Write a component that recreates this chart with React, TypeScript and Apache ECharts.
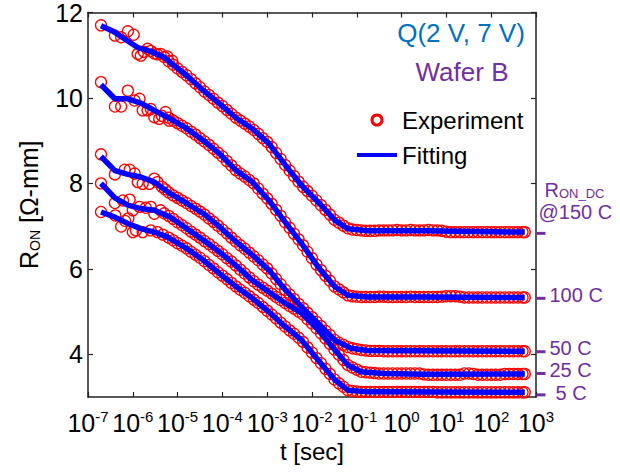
import React, { useEffect, useRef } from "react";
import * as echarts from "echarts";

const FONT = '"Liberation Sans", Arial, Helvetica, sans-serif';
const RED = "#ff0000";
const BLUE = "#0000ff";
const PURPLE = "#7030A0";
const TITLE_BLUE = "#0070C0";
const AXIS = "#222222";

// x values are log10(t / sec)
const xTickExponents = [-7, -6, -5, -4, -3, -2, -1, 0, 1, 2, 3];
const yTickValues = [4, 6, 8, 10, 12];

// ---------- fitting curves (log10 t, R_ON) ----------
const fitT150 = [-6.71, -6.44, -6.18, -5.89, -5.6, -5.3, -5.08, -4.79, -4.42, -4.06, -3.69, -3.33, -2.96, -2.59, -2.23, -1.86, -1.49, -1.2, -0.76, -0.4, 0.5, 2.75];
const fitR150 = [11.69, 11.56, 11.38, 11.18, 11.09, 10.95, 10.76, 10.52, 10.17, 9.86, 9.53, 9.28, 8.93, 8.42, 7.95, 7.56, 7.14, 6.94, 6.89, 6.89, 6.89, 6.86];

const fitT100 = [-6.71, -6.4, -6.11, -5.82, -5.52, -5.16, -4.79, -4.42, -4.06, -3.69, -3.33, -2.96, -2.59, -2.23, -1.86, -1.49, -1.2, -0.76, 0.5, 2.75];
const fitR100 = [10.31, 9.98, 9.98, 9.88, 9.71, 9.51, 9.28, 9.0, 8.69, 8.3, 8.03, 7.6, 7.08, 6.59, 6.04, 5.58, 5.38, 5.34, 5.34, 5.33];

const fitT50 = [-6.71, -6.4, -6.11, -5.82, -5.52, -5.16, -4.79, -4.42, -4.06, -3.69, -3.33, -2.96, -2.59, -2.23, -1.86, -1.49, -1.13, -0.76, 2.75];
const fitR50 = [8.63, 8.3, 8.21, 8.15, 8.03, 7.76, 7.53, 7.29, 6.98, 6.63, 6.32, 5.97, 5.5, 5.11, 4.72, 4.33, 4.14, 4.09, 4.07];

const fitT25 = [-6.71, -6.4, -6.11, -5.82, -5.52, -5.16, -4.79, -4.42, -4.06, -3.69, -3.33, -2.96, -2.59, -2.23, -1.86, -1.49, -1.2, -0.91, -0.4, 0.5, 2.75];
const fitR25 = [8.0, 7.66, 7.49, 7.41, 7.37, 7.21, 6.94, 6.67, 6.39, 6.07, 5.73, 5.46, 5.19, 4.96, 4.57, 4.1, 3.75, 3.59, 3.55, 3.53, 3.54];

const fitT5 = [-6.71, -6.4, -6.11, -5.82, -5.52, -5.23, -4.79, -4.42, -4.06, -3.69, -3.33, -2.96, -2.59, -2.23, -1.86, -1.49, -1.2, -0.76, 2.75];
const fitR5 = [7.33, 7.21, 7.06, 6.94, 6.86, 6.75, 6.47, 6.2, 5.89, 5.58, 5.31, 4.99, 4.64, 4.33, 3.86, 3.4, 3.16, 3.12, 3.11];

// ---------- experiment: early, scattered points ----------
const earlyT150 = [-6.71, -6.4, -6.26, -6.11, -5.98, -5.89, -5.82, -5.75, -5.67, -5.6, -5.52, -5.45, -5.38, -5.3, -5.23, -5.12];
const earlyR150 = [11.7, 11.46, 11.42, 11.56, 11.48, 11.03, 10.99, 11.08, 11.15, 11.1, 11.04, 11.02, 11.03, 10.96, 10.97, 10.87];

const earlyT100 = [-6.71, -6.4, -6.26, -6.11, -5.96, -5.85, -5.78, -5.67, -5.6, -5.52, -5.41, -5.35, -5.27, -5.19];
const earlyR100 = [10.37, 9.8, 9.8, 10.17, 9.94, 9.98, 9.71, 9.71, 9.74, 9.55, 9.51, 9.58, 9.67, 9.47];

const earlyT50 = [-6.71, -6.4, -6.18, -6.07, -5.96, -5.89, -5.78, -5.63, -5.52, -5.45, -5.35, -5.28];
const earlyR50 = [8.68, 8.21, 8.32, 8.32, 8.23, 8.03, 7.99, 7.99, 8.11, 8.03, 7.92, 7.86];

const earlyT25 = [-6.71, -6.4, -6.22, -6.07, -6.0, -5.85, -5.71, -5.6, -5.52, -5.38, -5.3];
const earlyR25 = [8.0, 7.54, 7.6, 7.62, 7.37, 7.45, 7.43, 7.45, 7.29, 7.37, 7.3];

const earlyT5 = [-6.71, -6.39, -6.26, -6.17, -6.1, -6.0, -5.93, -5.78, -5.6, -5.45, -5.33];
const earlyR5 = [7.33, 7.25, 6.99, 7.12, 7.18, 6.86, 6.9, 6.86, 6.9, 6.86, 6.8];

// ---------- experiment: dense part, sampled every 0.1 decade ----------
const expT = [
  -5.2, -5.1, -5.0, -4.9, -4.8, -4.7, -4.6, -4.5, -4.4, -4.3,
  -4.2, -4.1, -4.0, -3.9, -3.8, -3.7, -3.6, -3.5, -3.4, -3.3,
  -3.2, -3.1, -3.0, -2.9, -2.8, -2.7, -2.6, -2.5, -2.4, -2.3,
  -2.2, -2.1, -2.0, -1.9, -1.8, -1.7, -1.6, -1.5, -1.4, -1.3,
  -1.2, -1.1, -1.0, -0.9, -0.8, -0.7, -0.6, -0.5, -0.4, -0.3,
  -0.2, -0.1, 0.0, 0.1, 0.2, 0.3, 0.4, 0.5, 0.6, 0.7,
  0.8, 0.9, 1.0, 1.1, 1.2, 1.3, 1.4, 1.5, 1.6, 1.7,
  1.8, 1.9, 2.0, 2.1, 2.2, 2.3, 2.4, 2.5, 2.6, 2.7,
  2.75,
];
const expR150 = [
  10.86, 10.78, 10.69, 10.61, 10.53, 10.44, 10.34, 10.25, 10.15, 10.07,
  9.98, 9.89, 9.81, 9.72, 9.63, 9.54, 9.47, 9.4, 9.33, 9.25,
  9.16, 9.06, 8.97, 8.85, 8.71, 8.57, 8.43, 8.3, 8.17, 8.04,
  7.92, 7.82, 7.71, 7.6, 7.49, 7.38, 7.27, 7.15, 7.08, 7.01,
  6.95, 6.92, 6.91, 6.9, 6.89, 6.89, 6.89, 6.9, 6.9, 6.9,
  6.9, 6.91, 6.9, 6.9, 6.91, 6.9, 6.9, 6.9, 6.91, 6.9,
  6.9, 6.89, 6.87, 6.86, 6.86, 6.86, 6.86, 6.86, 6.86, 6.86,
  6.86, 6.86, 6.86, 6.86, 6.86, 6.86, 6.86, 6.86, 6.86, 6.86,
  6.86,
];
const expR100 = [
  9.54, 9.47, 9.41, 9.35, 9.29, 9.21, 9.14, 9.06, 8.98, 8.9,
  8.81, 8.72, 8.63, 8.52, 8.42, 8.31, 8.23, 8.16, 8.08, 8.0,
  7.88, 7.76, 7.65, 7.52, 7.38, 7.24, 7.09, 6.96, 6.82, 6.69,
  6.55, 6.4, 6.25, 6.1, 5.97, 5.84, 5.72, 5.59, 5.52, 5.45,
  5.38, 5.36, 5.35, 5.34, 5.34, 5.34, 5.34, 5.35, 5.35, 5.34,
  5.34, 5.34, 5.34, 5.34, 5.35, 5.34, 5.34, 5.34, 5.34, 5.34,
  5.34, 5.35, 5.36, 5.36, 5.36, 5.35, 5.33, 5.33, 5.33, 5.33,
  5.33, 5.33, 5.33, 5.33, 5.33, 5.33, 5.33, 5.33, 5.33, 5.33,
  5.33,
];
const expR50 = [
  7.79, 7.72, 7.66, 7.6, 7.54, 7.47, 7.41, 7.34, 7.27, 7.18,
  7.1, 7.01, 6.92, 6.83, 6.73, 6.64, 6.55, 6.47, 6.38, 6.29,
  6.2, 6.1, 6.01, 5.89, 5.76, 5.64, 5.51, 5.4, 5.29, 5.18,
  5.08, 4.97, 4.87, 4.76, 4.66, 4.55, 4.45, 4.34, 4.27, 4.22,
  4.17, 4.14, 4.12, 4.1, 4.09, 4.08, 4.08, 4.08, 4.07, 4.07,
  4.07, 4.07, 4.07, 4.07, 4.07, 4.07, 4.07, 4.07, 4.07, 4.07,
  4.07, 4.07, 4.07, 4.07, 4.07, 4.07, 4.07, 4.07, 4.07, 4.07,
  4.07, 4.07, 4.07, 4.07, 4.07, 4.07, 4.07, 4.07, 4.07, 4.07,
  4.07,
];
const expR25 = [
  7.24, 7.17, 7.09, 7.02, 6.95, 6.87, 6.8, 6.73, 6.65, 6.58,
  6.5, 6.42, 6.34, 6.25, 6.17, 6.08, 5.98, 5.89, 5.8, 5.71,
  5.63, 5.56, 5.49, 5.42, 5.34, 5.27, 5.2, 5.13, 5.07, 5.0,
  4.93, 4.82, 4.72, 4.61, 4.49, 4.37, 4.24, 4.11, 3.99, 3.87,
  3.75, 3.69, 3.64, 3.59, 3.58, 3.57, 3.56, 3.55, 3.55, 3.55,
  3.55, 3.55, 3.55, 3.55, 3.55, 3.55, 3.55, 3.53, 3.52, 3.52,
  3.52, 3.52, 3.52, 3.52, 3.52, 3.52, 3.55, 3.55, 3.54, 3.52,
  3.52, 3.52, 3.52, 3.52, 3.52, 3.54, 3.54, 3.54, 3.54, 3.54,
  3.54,
];
const expR5 = [
  6.73, 6.67, 6.6, 6.54, 6.48, 6.4, 6.33, 6.26, 6.18, 6.09,
  6.01, 5.92, 5.84, 5.76, 5.67, 5.59, 5.51, 5.44, 5.36, 5.28,
  5.2, 5.11, 5.02, 4.93, 4.84, 4.74, 4.65, 4.56, 4.48, 4.39,
  4.29, 4.16, 4.04, 3.91, 3.79, 3.66, 3.54, 3.41, 3.32, 3.24,
  3.16, 3.14, 3.13, 3.12, 3.12, 3.12, 3.12, 3.12, 3.12, 3.12,
  3.12, 3.12, 3.12, 3.12, 3.12, 3.12, 3.12, 3.12, 3.12, 3.12,
  3.11, 3.11, 3.11, 3.11, 3.11, 3.11, 3.11, 3.11, 3.11, 3.11,
  3.11, 3.11, 3.11, 3.11, 3.11, 3.11, 3.11, 3.11, 3.11, 3.11,
  3.11,
];

// ---------- R_ON_DC markers on the right ----------
const dcLevels = [6.83, 5.31, 4.06, 3.55, 3.05];
const dcLabels = ["@150 C", "100 C", "50 C", "25 C", "5 C"];

const pairs = (xs: number[], ys: number[]) => xs.map((x, i) => [x, ys[i]]);

const curves = [
  { fitT: fitT150, fitR: fitR150, eT: earlyT150, eR: earlyR150, r: expR150 },
  { fitT: fitT100, fitR: fitR100, eT: earlyT100, eR: earlyR100, r: expR100 },
  { fitT: fitT50, fitR: fitR50, eT: earlyT50, eR: earlyR50, r: expR50 },
  { fitT: fitT25, fitR: fitR25, eT: earlyT25, eR: earlyR25, r: expR25 },
  { fitT: fitT5, fitR: fitR5, eT: earlyT5, eR: earlyR5, r: expR5 },
];

const dcLabelOffsets = [
  [-11, -33],
  [0, -3],
  [0, -4],
  [0, -4],
  [6, -2],
];

function buildOption(): any {
  const scatterSeries = curves.map((c) => ({
    type: "scatter",
    name: "Experiment",
    xAxisIndex: 0,
    yAxisIndex: 0,
    symbol: "circle",
    symbolSize: 11,
    itemStyle: { color: "rgba(0,0,0,0)", borderColor: RED, borderWidth: 1.3, opacity: 1 },
    emphasis: { disabled: true },
    data: pairs(c.eT, c.eR).concat(pairs(expT, c.r)),
    z: 2,
  }));
  const lineSeries = curves.map((c) => ({
    type: "line",
    name: "Fitting",
    xAxisIndex: 0,
    yAxisIndex: 0,
    symbol: "none",
    showSymbol: false,
    lineStyle: { color: BLUE, width: 5.5 },
    itemStyle: { color: BLUE },
    emphasis: { disabled: true },
    data: pairs(c.fitT, c.fitR),
    z: 3,
  }));
  const dcSeries = {
    type: "scatter",
    name: "dc",
    xAxisIndex: 0,
    yAxisIndex: 0,
    symbol: "rect",
    symbolSize: [9, 3],
    symbolOffset: [5, 0],
    clip: false,
    itemStyle: { color: PURPLE, opacity: 1 },
    emphasis: { disabled: true },
    z: 4,
    label: {
      show: true,
      position: "right",
      distance: 4,
      color: PURPLE,
      opacity: 1,
      fontFamily: FONT,
      fontSize: 20,
      formatter: (p: any) =>
        p.dataIndex === 0
          ? "{r|R}{s|ON_DC}\n{u|" + dcLabels[0] + "}"
          : "{t|" + dcLabels[p.dataIndex] + "}",
      rich: {
        t: { fontSize: 20, lineHeight: 20, color: PURPLE, fontFamily: FONT },
        u: { fontSize: 20, lineHeight: 20, color: PURPLE, fontFamily: FONT, padding: [4, 0, 0, 0] },
        r: { fontSize: 20, lineHeight: 20, color: PURPLE, fontFamily: FONT, verticalAlign: "top", padding: [0, 0, 0, 6] },
        s: { fontSize: 13, lineHeight: 12, color: PURPLE, fontFamily: FONT, verticalAlign: "bottom", padding: [6, 0, 0, 0] },
      },
    },
    data: dcLevels.map((v, i) => ({
      value: [xTickExponents[xTickExponents.length - 1], v],
      label: { offset: dcLabelOffsets[i] },
    })),
  };

  const axisLine = { show: true, onZero: false, lineStyle: { color: AXIS, width: 1.5 } };
  const tickStyle = { color: AXIS, width: 1.2 };

  return {
    animation: false,
    backgroundColor: "#ffffff",
    grid: { left: 82, right: 84, top: 12, bottom: 75, containLabel: false },
    legend: {
      orient: "vertical",
      left: 357,
      top: 108,
      padding: 0,
      itemWidth: 40,
      itemHeight: 10,
      itemGap: 11,
      selectedMode: false,
      textStyle: { fontSize: 24, color: "#000", fontFamily: FONT },
      data: [
        {
          name: "Experiment",
          icon: "circle",
          itemStyle: { color: "#ffffff", borderColor: RED, borderWidth: 3, opacity: 1 },
        },
        {
          name: "Fitting",
          icon: "path://M0,0H40V4H0Z",
          itemStyle: { color: BLUE, borderWidth: 0 },
        },
      ],
    },
    xAxis: [
      {
        type: "value",
        position: "bottom",
        min: -7,
        max: 3,
        interval: 1,
        axisLine,
        axisTick: { show: true, inside: true, length: 5, lineStyle: tickStyle },
        splitLine: { show: false },
        axisLabel: {
          show: true,
          margin: 8,
          showMinLabel: true,
          showMaxLabel: true,
          formatter: (v: number) => "{b|10}{s|" + Math.round(v) + "}",
          rich: {
            b: { fontSize: 25, lineHeight: 30, color: "#000", fontFamily: FONT, verticalAlign: "bottom" },
            s: { fontSize: 15, lineHeight: 16, color: "#000", fontFamily: FONT, verticalAlign: "top", padding: [4, 0, 0, 0] },
          },
        },
        name: "t [sec]",
        nameLocation: "middle",
        nameGap: 42,
        nameTextStyle: { fontSize: 24, color: "#000", fontFamily: FONT },
      },
      {
        type: "value",
        position: "top",
        min: -7,
        max: 3,
        interval: 1,
        axisLine,
        axisTick: { show: true, inside: true, length: 5, lineStyle: tickStyle },
        axisLabel: { show: false },
        splitLine: { show: false },
      },
    ],
    yAxis: [
      {
        type: "value",
        position: "left",
        min: 3,
        max: 12,
        axisLine,
        axisTick: { show: true, inside: true, length: 5, lineStyle: tickStyle, customValues: yTickValues },
        splitLine: { show: false },
        axisLabel: {
          show: true,
          margin: 5,
          customValues: yTickValues,
          fontSize: 25,
          color: "#000",
          fontFamily: FONT,
        },
        name: "{r|R}{s|ON}{r| [Ω-mm]}",
        nameLocation: "middle",
        nameGap: 46,
        nameTextStyle: {
          fontSize: 25,
          color: "#000",
          fontFamily: FONT,
          rich: {
            r: { fontSize: 25, lineHeight: 26, color: "#000", fontFamily: FONT, verticalAlign: "top" },
            s: { fontSize: 14, lineHeight: 14, color: "#000", fontFamily: FONT, verticalAlign: "bottom", padding: [20, 0, 0, 0] },
          },
        },
      },
      {
        type: "value",
        position: "right",
        min: 3,
        max: 12,
        axisLine,
        axisTick: { show: true, inside: true, length: 5, lineStyle: tickStyle, customValues: yTickValues },
        axisLabel: { show: false },
        splitLine: { show: false },
      },
    ],
    graphic: [
      {
        type: "text",
        x: 461,
        y: 33,
        style: {
          text: "Q(2 V, 7 V)",
          fill: TITLE_BLUE,
          font: "26px " + FONT,
          align: "center",
          verticalAlign: "middle",
          textAlign: "center",
          textVerticalAlign: "middle",
        },
      },
      {
        type: "text",
        x: 462,
        y: 72,
        style: {
          text: "Wafer B",
          fill: PURPLE,
          font: "26px " + FONT,
          align: "center",
          verticalAlign: "middle",
          textAlign: "center",
          textVerticalAlign: "middle",
        },
      },
    ],
    series: [...scatterSeries, ...lineSeries, dcSeries],
  };
}

export default function App() {
  const ref = useRef<HTMLDivElement>(null);
  useEffect(() => {
    if (!ref.current) return;
    const chart = echarts.init(ref.current, null, { renderer: "svg" });
    chart.setOption(buildOption());
    return () => chart.dispose();
  }, []);
  return (
    <div
      ref={ref}
      style={{ position: "fixed", left: 0, top: 0, width: 620, height: 472, background: "#fff" }}
    />
  );
}
